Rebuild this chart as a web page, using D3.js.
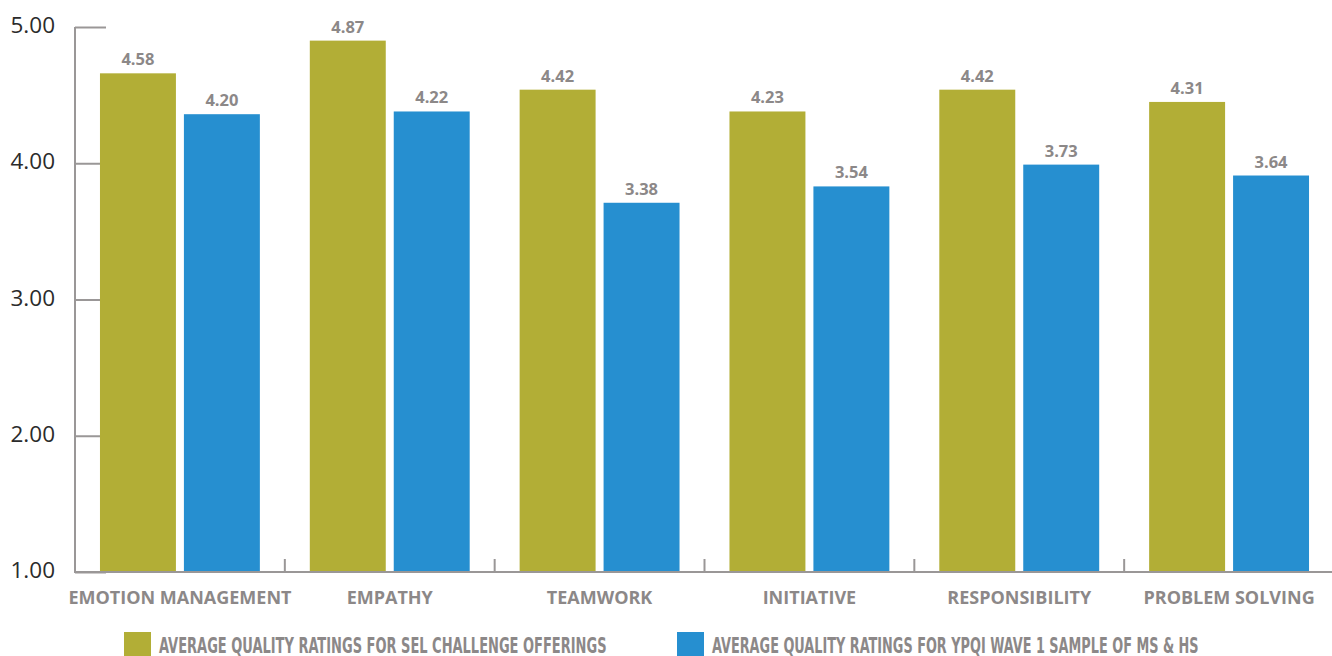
<!DOCTYPE html>
<html>
<head>
<meta charset="utf-8">
<script src="https://cdn.jsdelivr.net/npm/d3@7"></script>
<style>
  html, body { margin: 0; padding: 0; background: #fff; }
  svg { display: block; }
</style>
</head>
<body>
<svg id="chart" width="1332" height="656"></svg>
<script>
// ---- data ----
const categories = ["EMOTION MANAGEMENT", "EMPATHY", "TEAMWORK", "INITIATIVE", "RESPONSIBILITY", "PROBLEM SOLVING"];
const seriesNames = [
  "AVERAGE QUALITY RATINGS FOR SEL CHALLENGE OFFERINGS",
  "AVERAGE QUALITY RATINGS FOR YPQI WAVE 1 SAMPLE OF MS & HS"
];
// bar heights as drawn in the picture
const selValues  = [4.66, 4.90, 4.54, 4.38, 4.54, 4.45];
const ypqiValues = [4.36, 4.38, 3.71, 3.83, 3.99, 3.91];
// printed value labels
const selLabels  = ["4.58", "4.87", "4.42", "4.23", "4.42", "4.31"];
const ypqiLabels = ["4.20", "4.22", "3.38", "3.54", "3.73", "3.64"];
const yTicks = [1, 2, 3, 4, 5];
const colors = ["#b2ae36", "#268fd0"];

// ---- layout ----
const svg = d3.select("#chart");
const gray = "#8c8888";
const axisGray = "#9a9797";

const x0 = d3.scaleBand().domain(categories).range([75, 1334]).padding(0);
const bw = x0.bandwidth();
const x1 = d3.scaleBand().domain([0, 1]).range([bw * 0.119, bw * 0.881]).paddingInner(0.0952);
const y = d3.scaleLinear().domain([1, 5]).range([572, 27]);

// y ticks (drawn behind bars)
const yAxis = d3.axisRight(y).tickValues(yTicks).tickSize(31).tickFormat("");
const gy = svg.append("g").attr("transform", "translate(75,0)").call(yAxis);
gy.select(".domain").remove();
gy.selectAll(".tick line").attr("stroke", axisGray).attr("stroke-width", 2);

// y labels
svg.append("g").selectAll("text").data(yTicks).join("text")
  .attr("x", 55).attr("y", d => y(d) + 6)
  .attr("text-anchor", "end")
  .attr("font-family", "'Open Sans', sans-serif")
  .attr("font-size", 22.5)
  .attr("fill", "#2b2b2b")
  .text(d => d3.format(".2f")(d));

// bars
const rows = categories.map((c, i) => ({
  cat: c,
  vals: [
    { s: 0, v: selValues[i], label: selLabels[i] },
    { s: 1, v: ypqiValues[i], label: ypqiLabels[i] }
  ]
}));

const groups = svg.append("g").selectAll("g").data(rows).join("g")
  .attr("transform", d => `translate(${x0(d.cat)},0)`);

groups.selectAll("rect").data(d => d.vals).join("rect")
  .attr("x", d => x1(d.s))
  .attr("width", x1.bandwidth())
  .attr("y", d => y(d.v))
  .attr("height", d => y(1) - y(d.v))
  .attr("fill", d => colors[d.s]);

groups.selectAll("text").data(d => d.vals).join("text")
  .attr("x", d => x1(d.s) + x1.bandwidth() / 2)
  .attr("y", d => y(d.v) - 8)
  .attr("text-anchor", "middle")
  .attr("font-family", "'Open Sans', sans-serif")
  .attr("font-weight", "bold")
  .attr("font-size", 16.5)
  .attr("fill", gray)
  .text(d => d.label);

// y axis line
svg.append("line")
  .attr("x1", 75).attr("x2", 75).attr("y1", y(5)).attr("y2", y(1) + 1)
  .attr("stroke", axisGray).attr("stroke-width", 2);

// x axis baseline + category ticks
svg.append("line")
  .attr("x1", 75).attr("x2", 1332).attr("y1", y(1)).attr("y2", y(1))
  .attr("stroke", axisGray).attr("stroke-width", 2);
svg.append("g").selectAll("line").data(categories.slice(1)).join("line")
  .attr("x1", d => x0(d)).attr("x2", d => x0(d))
  .attr("y1", y(1)).attr("y2", y(1) - 13)
  .attr("stroke", axisGray).attr("stroke-width", 2);

// category labels
svg.append("g").selectAll("text").data(categories).join("text")
  .attr("x", d => x0(d) + bw / 2)
  .attr("y", 604)
  .attr("text-anchor", "middle")
  .attr("font-family", "'Open Sans', sans-serif")
  .attr("font-weight", "bold")
  .attr("font-size", 18)
  .attr("fill", gray)
  .text(d => d);

// legend
const legendX = [124, 677];
const legendW = [448, 487];
const lg = svg.append("g").selectAll("g").data(seriesNames).join("g")
  .attr("transform", (d, i) => `translate(${legendX[i]},632)`);
lg.append("rect").attr("width", 27).attr("height", 27).attr("fill", (d, i) => colors[i]);
lg.append("text")
  .attr("font-family", "'Liberation Sans Narrow', 'DejaVu Sans Condensed', sans-serif")
  .attr("font-weight", "bold")
  .attr("font-size", 21)
  .attr("fill", gray)
  .text(d => d)
  .each(function(d, i) {
    const natural = this.getComputedTextLength() || legendW[i];
    const sx = legendW[i] / natural;
    d3.select(this).attr("transform", `translate(35,20.5) scale(${sx},1)`);
  });
</script>
</body>
</html>
